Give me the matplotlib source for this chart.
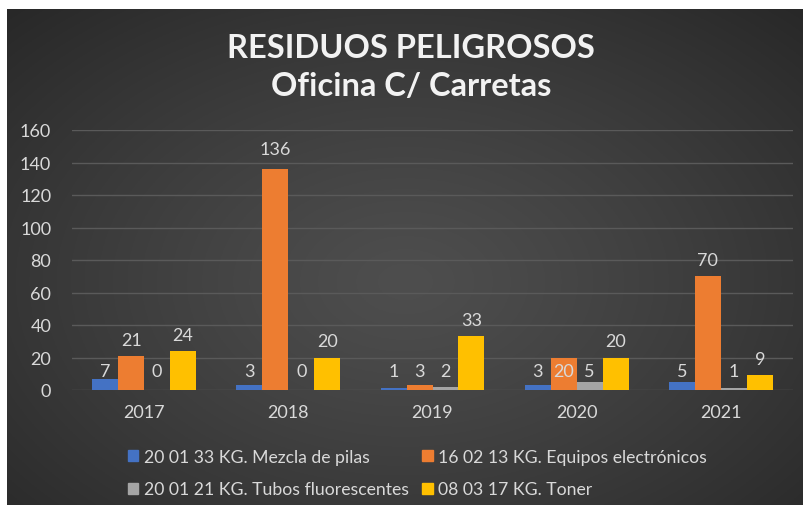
import numpy as np
import matplotlib.pyplot as plt
from matplotlib.patches import Patch

years = ['2017', '2018', '2019', '2020', '2021']
pilas = [7, 3, 1, 3, 5]
electronicos = [21, 136, 3, 20, 70]
tubos = [0, 0, 2, 5, 1]
toner = [24, 20, 33, 20, 9]

series_names = ['20 01 33 KG. Mezcla de pilas',
                '16 02 13 KG. Equipos electrónicos',
                '20 01 21 KG. Tubos fluorescentes',
                '08 03 17 KG. Toner']
colors = ['#4472C4', '#ED7D31', '#A5A5A5', '#FFC000']

plt.rcParams['font.family'] = ['Lato', 'DejaVu Sans']
txt = '#D9D9D9'

fig = plt.figure(figsize=(8.04, 5.06), dpi=100, facecolor='white')

# dark radial background panel
bg = fig.add_axes([7/804, 0, 797/804, 496/506])
yy, xx = np.mgrid[0:1:300j, 0:1:480j]
r = np.sqrt(((xx - 0.5) / 0.75) ** 2 + ((yy - 0.55) / 0.8) ** 2)
r = np.clip(r, 0, 1)
c0, c1 = 0x4e / 255, 0x26 / 255
shade = c0 + (c1 - c0) * r ** 1.2
bg.imshow(np.dstack([shade, shade, shade]), aspect='auto', extent=[0, 1, 0, 1])
bg.set_axis_off()

ax = fig.add_axes([72/804, 1 - 391/506, 721/804, 260/506])
ax.set_facecolor('none')

data = [pilas, electronicos, tubos, toner]
x = np.arange(len(years))
w = 0.18
px_per_unit = 260 / 160
pinned = {(1, 3)}  # label placed low, inside the bar
for i, (vals, col) in enumerate(zip(data, colors)):
    pos = x + (i - 1.5) * w
    ax.bar(pos, vals, w, color=col, zorder=3)
    for j, v in enumerate(vals):
        if v < 8 or (i, j) in pinned:
            ly = 19 / px_per_unit
        elif v > 100:
            ly = v + 20 / px_per_unit
        else:
            ly = v + 16 / px_per_unit
        ax.text(pos[j], ly, str(v), ha='center', va='center', color=txt, fontsize=13)

ax.set_xlim(-0.5, len(years) - 0.5)
ax.set_ylim(0, 160)
ax.set_yticks(range(0, 161, 20))
ax.grid(axis='y', color='#5a5a5a', linewidth=1, zorder=0)
ax.set_xticks(x)
ax.set_xticklabels(years)
ax.tick_params(colors=txt, labelsize=13, length=0)
ax.tick_params(axis='x', pad=10)
ax.tick_params(axis='y', pad=15)
for s in ax.spines.values():
    s.set_visible(False)

fig.text(411/804, 1 - 48/506, 'RESIDUOS PELIGROSOS', ha='center', va='center',
         color='#F2F2F2', fontsize=23.5, fontweight='bold')
fig.text(411/804, 1 - 87/506, 'Oficina C/ Carretas', ha='center', va='center',
         color='#F2F2F2', fontsize=23.5, fontweight='bold')

# legend filled row by row, like the original
order = [0, 2, 1, 3]
handles = [Patch(color=colors[k]) for k in order]
labels = [series_names[k] for k in order]
leg = fig.legend(handles, labels, loc='center left', bbox_to_anchor=(112/804, 1 - 474/506),
                 ncol=2, frameon=False, fontsize=12.7, labelcolor=txt,
                 handlelength=0.6, handleheight=0.6, handletextpad=0.3,
                 columnspacing=0.75, labelspacing=0.95)

fig.savefig('out.png', dpi=100, facecolor=fig.get_facecolor())
